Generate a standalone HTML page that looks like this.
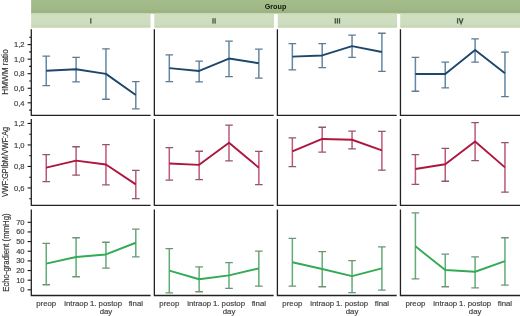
<!DOCTYPE html><html><head><meta charset="utf-8"><style>html,body{margin:0;padding:0;background:#fff;width:520px;height:316px;overflow:hidden}svg{display:block;will-change:transform}text{font-family:"Liberation Sans",sans-serif}.t{stroke:#444;stroke-width:0.18px}</style></head><body>
<svg width="520" height="316" viewBox="0 0 520 316">
<defs><linearGradient id="gd" x1="0" y1="0" x2="0" y2="1"><stop offset="0" stop-color="#a5bd8b"/><stop offset="0.6" stop-color="#a1b987"/><stop offset="0.85" stop-color="#9ab380"/><stop offset="1" stop-color="#9fb785"/></linearGradient><linearGradient id="gl" x1="0" y1="0" x2="0" y2="1"><stop offset="0" stop-color="#c9dcb6"/><stop offset="0.1" stop-color="#d0dfc0"/><stop offset="0.8" stop-color="#cddbbf"/><stop offset="0.92" stop-color="#c3d6af"/><stop offset="1" stop-color="#d3e1c4"/></linearGradient></defs>
<rect x="31.1" y="0" width="488.9" height="13.6" fill="url(#gd)"/>
<text x="275.5" y="9.3" font-size="7.2" font-weight="bold" text-anchor="middle" fill="#10180c">Group</text>
<rect x="31.10" y="13.6" width="119.40" height="14.3" fill="url(#gl)"/>
<rect x="90.15" y="18.2" width="1.3" height="5.4" fill="#46583f"/>
<rect x="154.30" y="13.6" width="119.70" height="14.3" fill="url(#gl)"/>
<rect x="212.35" y="18.2" width="1.3" height="5.4" fill="#46583f"/>
<rect x="214.45" y="18.2" width="1.3" height="5.4" fill="#46583f"/>
<rect x="277.80" y="13.6" width="119.30" height="14.3" fill="url(#gl)"/>
<rect x="334.65" y="18.2" width="1.3" height="5.4" fill="#46583f"/>
<rect x="336.75" y="18.2" width="1.3" height="5.4" fill="#46583f"/>
<rect x="338.85" y="18.2" width="1.3" height="5.4" fill="#46583f"/>
<rect x="400.20" y="13.6" width="119.80" height="14.3" fill="url(#gl)"/>
<rect x="456.95" y="18.2" width="1.3" height="5.4" fill="#46583f"/>
<path d="M459.2 18.2L461.1 23.5L463.0 18.2" fill="none" stroke="#46583f" stroke-width="1.3"/>
<path d="M31.30 29.20V115.30H150.60" fill="none" stroke="#222" stroke-width="1.3"/>
<path d="M46.25 56.05V85.65" fill="none" stroke="#6188a5" stroke-width="1.5"/>
<path d="M42.45 56.05H50.05M42.45 85.65H50.05" fill="none" stroke="#627a8e" stroke-width="1.3"/>
<path d="M76.10 57.45V81.95" fill="none" stroke="#6188a5" stroke-width="1.5"/>
<path d="M72.30 57.45H79.90M72.30 81.95H79.90" fill="none" stroke="#627a8e" stroke-width="1.3"/>
<path d="M105.95 48.85V99.25" fill="none" stroke="#6188a5" stroke-width="1.5"/>
<path d="M102.15 48.85H109.75M102.15 99.25H109.75" fill="none" stroke="#627a8e" stroke-width="1.3"/>
<path d="M135.80 81.55V108.85" fill="none" stroke="#6188a5" stroke-width="1.5"/>
<path d="M132.00 81.55H139.60M132.00 108.85H139.60" fill="none" stroke="#627a8e" stroke-width="1.3"/>
<polyline points="46.25,70.75 76.10,69.25 105.95,73.85 135.80,94.95" fill="none" stroke="#1e476c" stroke-width="1.9" stroke-linejoin="round"/>
<path d="M154.35 29.20V115.30H273.65" fill="none" stroke="#222" stroke-width="1.3"/>
<path d="M169.30 54.95V81.65" fill="none" stroke="#6188a5" stroke-width="1.5"/>
<path d="M165.50 54.95H173.10M165.50 81.65H173.10" fill="none" stroke="#627a8e" stroke-width="1.3"/>
<path d="M199.15 61.05V81.95" fill="none" stroke="#6188a5" stroke-width="1.5"/>
<path d="M195.35 61.05H202.95M195.35 81.95H202.95" fill="none" stroke="#627a8e" stroke-width="1.3"/>
<path d="M229.00 41.15V76.65" fill="none" stroke="#6188a5" stroke-width="1.5"/>
<path d="M225.20 41.15H232.80M225.20 76.65H232.80" fill="none" stroke="#627a8e" stroke-width="1.3"/>
<path d="M258.85 49.15V78.05" fill="none" stroke="#6188a5" stroke-width="1.5"/>
<path d="M255.05 49.15H262.65M255.05 78.05H262.65" fill="none" stroke="#627a8e" stroke-width="1.3"/>
<polyline points="169.30,68.15 199.15,70.95 229.00,58.55 258.85,63.25" fill="none" stroke="#1e476c" stroke-width="1.9" stroke-linejoin="round"/>
<path d="M277.40 29.20V115.30H396.70" fill="none" stroke="#222" stroke-width="1.3"/>
<path d="M292.35 43.65V69.85" fill="none" stroke="#6188a5" stroke-width="1.5"/>
<path d="M288.55 43.65H296.15M288.55 69.85H296.15" fill="none" stroke="#627a8e" stroke-width="1.3"/>
<path d="M322.20 43.65V67.65" fill="none" stroke="#6188a5" stroke-width="1.5"/>
<path d="M318.40 43.65H326.00M318.40 67.65H326.00" fill="none" stroke="#627a8e" stroke-width="1.3"/>
<path d="M352.05 35.15V57.45" fill="none" stroke="#6188a5" stroke-width="1.5"/>
<path d="M348.25 35.15H355.85M348.25 57.45H355.85" fill="none" stroke="#627a8e" stroke-width="1.3"/>
<path d="M381.90 33.25V71.45" fill="none" stroke="#6188a5" stroke-width="1.5"/>
<path d="M378.10 33.25H385.70M378.10 71.45H385.70" fill="none" stroke="#627a8e" stroke-width="1.3"/>
<polyline points="292.35,56.65 322.20,55.45 352.05,46.15 381.90,51.95" fill="none" stroke="#1e476c" stroke-width="1.9" stroke-linejoin="round"/>
<path d="M400.45 29.20V115.30H520.00" fill="none" stroke="#222" stroke-width="1.3"/>
<path d="M415.40 57.45V91.25" fill="none" stroke="#6188a5" stroke-width="1.5"/>
<path d="M411.60 57.45H419.20M411.60 91.25H419.20" fill="none" stroke="#627a8e" stroke-width="1.3"/>
<path d="M445.25 62.15V87.95" fill="none" stroke="#6188a5" stroke-width="1.5"/>
<path d="M441.45 62.15H449.05M441.45 87.95H449.05" fill="none" stroke="#627a8e" stroke-width="1.3"/>
<path d="M475.10 38.95V62.15" fill="none" stroke="#6188a5" stroke-width="1.5"/>
<path d="M471.30 38.95H478.90M471.30 62.15H478.90" fill="none" stroke="#627a8e" stroke-width="1.3"/>
<path d="M504.95 52.15V96.55" fill="none" stroke="#6188a5" stroke-width="1.5"/>
<path d="M501.15 52.15H508.75M501.15 96.55H508.75" fill="none" stroke="#627a8e" stroke-width="1.3"/>
<polyline points="415.40,73.95 445.25,73.95 475.10,49.95 504.95,73.35" fill="none" stroke="#1e476c" stroke-width="1.9" stroke-linejoin="round"/>
<path d="M29.2 37.30H31" stroke="#161616" stroke-width="1.1"/>
<path d="M27.6 44.60H31" stroke="#161616" stroke-width="1.1"/>
<text x="24.6" y="47.30" font-size="7.6" text-anchor="end" fill="#404040" class="t">1,2</text>
<path d="M29.2 51.90H31" stroke="#161616" stroke-width="1.1"/>
<path d="M27.6 59.15H31" stroke="#161616" stroke-width="1.1"/>
<text x="24.6" y="61.85" font-size="7.6" text-anchor="end" fill="#404040" class="t">1,0</text>
<path d="M29.2 66.40H31" stroke="#161616" stroke-width="1.1"/>
<path d="M27.6 73.70H31" stroke="#161616" stroke-width="1.1"/>
<text x="24.6" y="76.40" font-size="7.6" text-anchor="end" fill="#404040" class="t">0,8</text>
<path d="M29.2 81.00H31" stroke="#161616" stroke-width="1.1"/>
<path d="M27.6 88.25H31" stroke="#161616" stroke-width="1.1"/>
<text x="24.6" y="90.95" font-size="7.6" text-anchor="end" fill="#404040" class="t">0,6</text>
<path d="M29.2 95.50H31" stroke="#161616" stroke-width="1.1"/>
<path d="M27.6 102.80H31" stroke="#161616" stroke-width="1.1"/>
<text x="24.6" y="105.50" font-size="7.6" text-anchor="end" fill="#404040" class="t">0,4</text>
<path d="M29.2 110.10H31" stroke="#161616" stroke-width="1.1"/>
<text transform="translate(7.9 72.00) rotate(-90)" x="0" y="0" font-size="8.3" textLength="45.5" lengthAdjust="spacingAndGlyphs" text-anchor="middle" fill="#2a2a2a" class="t">HMWM ratio</text>
<path d="M31.30 119.00V205.30H150.60" fill="none" stroke="#222" stroke-width="1.3"/>
<path d="M46.25 154.55V181.55" fill="none" stroke="#be5878" stroke-width="1.5"/>
<path d="M42.45 154.55H50.05M42.45 181.55H50.05" fill="none" stroke="#8f5868" stroke-width="1.3"/>
<path d="M76.10 146.75V175.15" fill="none" stroke="#be5878" stroke-width="1.5"/>
<path d="M72.30 146.75H79.90M72.30 175.15H79.90" fill="none" stroke="#8f5868" stroke-width="1.3"/>
<path d="M105.95 144.55V184.85" fill="none" stroke="#be5878" stroke-width="1.5"/>
<path d="M102.15 144.55H109.75M102.15 184.85H109.75" fill="none" stroke="#8f5868" stroke-width="1.3"/>
<path d="M135.80 170.45V198.55" fill="none" stroke="#be5878" stroke-width="1.5"/>
<path d="M132.00 170.45H139.60M132.00 198.55H139.60" fill="none" stroke="#8f5868" stroke-width="1.3"/>
<polyline points="46.25,167.65 76.10,160.65 105.95,164.55 135.80,184.35" fill="none" stroke="#ac173f" stroke-width="1.9" stroke-linejoin="round"/>
<path d="M154.35 119.00V205.30H273.65" fill="none" stroke="#222" stroke-width="1.3"/>
<path d="M169.30 147.55V180.15" fill="none" stroke="#be5878" stroke-width="1.5"/>
<path d="M165.50 147.55H173.10M165.50 180.15H173.10" fill="none" stroke="#8f5868" stroke-width="1.3"/>
<path d="M199.15 151.25V179.55" fill="none" stroke="#be5878" stroke-width="1.5"/>
<path d="M195.35 151.25H202.95M195.35 179.55H202.95" fill="none" stroke="#8f5868" stroke-width="1.3"/>
<path d="M229.00 125.05V160.95" fill="none" stroke="#be5878" stroke-width="1.5"/>
<path d="M225.20 125.05H232.80M225.20 160.95H232.80" fill="none" stroke="#8f5868" stroke-width="1.3"/>
<path d="M258.85 151.45V184.65" fill="none" stroke="#be5878" stroke-width="1.5"/>
<path d="M255.05 151.45H262.65M255.05 184.65H262.65" fill="none" stroke="#8f5868" stroke-width="1.3"/>
<polyline points="169.30,163.45 199.15,164.85 229.00,142.85 258.85,167.65" fill="none" stroke="#ac173f" stroke-width="1.9" stroke-linejoin="round"/>
<path d="M277.40 119.00V205.30H396.70" fill="none" stroke="#222" stroke-width="1.3"/>
<path d="M292.35 137.85V166.55" fill="none" stroke="#be5878" stroke-width="1.5"/>
<path d="M288.55 137.85H296.15M288.55 166.55H296.15" fill="none" stroke="#8f5868" stroke-width="1.3"/>
<path d="M322.20 127.25V152.05" fill="none" stroke="#be5878" stroke-width="1.5"/>
<path d="M318.40 127.25H326.00M318.40 152.05H326.00" fill="none" stroke="#8f5868" stroke-width="1.3"/>
<path d="M352.05 131.15V148.95" fill="none" stroke="#be5878" stroke-width="1.5"/>
<path d="M348.25 131.15H355.85M348.25 148.95H355.85" fill="none" stroke="#8f5868" stroke-width="1.3"/>
<path d="M381.90 131.45V170.15" fill="none" stroke="#be5878" stroke-width="1.5"/>
<path d="M378.10 131.45H385.70M378.10 170.15H385.70" fill="none" stroke="#8f5868" stroke-width="1.3"/>
<polyline points="292.35,151.45 322.20,138.95 352.05,139.75 381.90,150.35" fill="none" stroke="#ac173f" stroke-width="1.9" stroke-linejoin="round"/>
<path d="M400.45 119.00V205.30H520.00" fill="none" stroke="#222" stroke-width="1.3"/>
<path d="M415.40 154.55V184.35" fill="none" stroke="#be5878" stroke-width="1.5"/>
<path d="M411.60 154.55H419.20M411.60 184.35H419.20" fill="none" stroke="#8f5868" stroke-width="1.3"/>
<path d="M445.25 148.45V181.25" fill="none" stroke="#be5878" stroke-width="1.5"/>
<path d="M441.45 148.45H449.05M441.45 181.25H449.05" fill="none" stroke="#8f5868" stroke-width="1.3"/>
<path d="M475.10 122.55V160.65" fill="none" stroke="#be5878" stroke-width="1.5"/>
<path d="M471.30 122.55H478.90M471.30 160.65H478.90" fill="none" stroke="#8f5868" stroke-width="1.3"/>
<path d="M504.95 142.55V192.15" fill="none" stroke="#be5878" stroke-width="1.5"/>
<path d="M501.15 142.55H508.75M501.15 192.15H508.75" fill="none" stroke="#8f5868" stroke-width="1.3"/>
<polyline points="415.40,169.05 445.25,164.25 475.10,141.45 504.95,167.35" fill="none" stroke="#ac173f" stroke-width="1.9" stroke-linejoin="round"/>
<path d="M27.6 123.45H31" stroke="#161616" stroke-width="1.1"/>
<text x="24.6" y="126.15" font-size="7.6" text-anchor="end" fill="#404040" class="t">1,2</text>
<path d="M29.2 134.20H31" stroke="#161616" stroke-width="1.1"/>
<path d="M27.6 144.95H31" stroke="#161616" stroke-width="1.1"/>
<text x="24.6" y="147.65" font-size="7.6" text-anchor="end" fill="#404040" class="t">1,0</text>
<path d="M29.2 155.70H31" stroke="#161616" stroke-width="1.1"/>
<path d="M27.6 166.45H31" stroke="#161616" stroke-width="1.1"/>
<text x="24.6" y="169.15" font-size="7.6" text-anchor="end" fill="#404040" class="t">0,8</text>
<path d="M29.2 177.20H31" stroke="#161616" stroke-width="1.1"/>
<path d="M27.6 187.95H31" stroke="#161616" stroke-width="1.1"/>
<text x="24.6" y="190.65" font-size="7.6" text-anchor="end" fill="#404040" class="t">0,6</text>
<path d="M29.2 198.70H31" stroke="#161616" stroke-width="1.1"/>
<text transform="translate(8.2 162.00) rotate(-90)" x="0" y="0" font-size="8.3" textLength="70.1" lengthAdjust="spacingAndGlyphs" text-anchor="middle" fill="#2a2a2a" class="t">VWF:GPIbM/VWF:Ag</text>
<path d="M31.30 209.60V295.50H150.60" fill="none" stroke="#222" stroke-width="1.3"/>
<path d="M46.25 243.35V284.75" fill="none" stroke="#62ac76" stroke-width="1.5"/>
<path d="M42.45 243.35H50.05M42.45 284.75H50.05" fill="none" stroke="#6f9279" stroke-width="1.3"/>
<path d="M76.10 237.75V276.75" fill="none" stroke="#62ac76" stroke-width="1.5"/>
<path d="M72.30 237.75H79.90M72.30 276.75H79.90" fill="none" stroke="#6f9279" stroke-width="1.3"/>
<path d="M105.95 242.25V268.05" fill="none" stroke="#62ac76" stroke-width="1.5"/>
<path d="M102.15 242.25H109.75M102.15 268.05H109.75" fill="none" stroke="#6f9279" stroke-width="1.3"/>
<path d="M135.80 229.15V256.95" fill="none" stroke="#62ac76" stroke-width="1.5"/>
<path d="M132.00 229.15H139.60M132.00 256.95H139.60" fill="none" stroke="#6f9279" stroke-width="1.3"/>
<polyline points="46.25,263.65 76.10,256.95 105.95,254.45 135.80,242.75" fill="none" stroke="#33aa55" stroke-width="1.9" stroke-linejoin="round"/>
<path d="M154.35 209.60V295.50H273.65" fill="none" stroke="#222" stroke-width="1.3"/>
<path d="M169.30 248.65V292.85" fill="none" stroke="#62ac76" stroke-width="1.5"/>
<path d="M165.50 248.65H173.10M165.50 292.85H173.10" fill="none" stroke="#6f9279" stroke-width="1.3"/>
<path d="M199.15 266.95V291.75" fill="none" stroke="#62ac76" stroke-width="1.5"/>
<path d="M195.35 266.95H202.95M195.35 291.75H202.95" fill="none" stroke="#6f9279" stroke-width="1.3"/>
<path d="M229.00 262.55V288.45" fill="none" stroke="#62ac76" stroke-width="1.5"/>
<path d="M225.20 262.55H232.80M225.20 288.45H232.80" fill="none" stroke="#6f9279" stroke-width="1.3"/>
<path d="M258.85 251.15V286.15" fill="none" stroke="#62ac76" stroke-width="1.5"/>
<path d="M255.05 251.15H262.65M255.05 286.15H262.65" fill="none" stroke="#6f9279" stroke-width="1.3"/>
<polyline points="169.30,270.55 199.15,279.25 229.00,275.35 258.85,268.35" fill="none" stroke="#33aa55" stroke-width="1.9" stroke-linejoin="round"/>
<path d="M277.40 209.60V295.50H396.70" fill="none" stroke="#222" stroke-width="1.3"/>
<path d="M292.35 238.35V286.15" fill="none" stroke="#62ac76" stroke-width="1.5"/>
<path d="M288.55 238.35H296.15M288.55 286.15H296.15" fill="none" stroke="#6f9279" stroke-width="1.3"/>
<path d="M322.20 251.65V286.75" fill="none" stroke="#62ac76" stroke-width="1.5"/>
<path d="M318.40 251.65H326.00M318.40 286.75H326.00" fill="none" stroke="#6f9279" stroke-width="1.3"/>
<path d="M352.05 260.55V292.55" fill="none" stroke="#62ac76" stroke-width="1.5"/>
<path d="M348.25 260.55H355.85M348.25 292.55H355.85" fill="none" stroke="#6f9279" stroke-width="1.3"/>
<path d="M381.90 246.95V290.05" fill="none" stroke="#62ac76" stroke-width="1.5"/>
<path d="M378.10 246.95H385.70M378.10 290.05H385.70" fill="none" stroke="#6f9279" stroke-width="1.3"/>
<polyline points="292.35,262.25 322.20,268.95 352.05,276.15 381.90,268.35" fill="none" stroke="#33aa55" stroke-width="1.9" stroke-linejoin="round"/>
<path d="M400.45 209.60V295.50H520.00" fill="none" stroke="#222" stroke-width="1.3"/>
<path d="M415.40 212.95V278.95" fill="none" stroke="#62ac76" stroke-width="1.5"/>
<path d="M411.60 212.95H419.20M411.60 278.95H419.20" fill="none" stroke="#6f9279" stroke-width="1.3"/>
<path d="M445.25 254.15V286.75" fill="none" stroke="#62ac76" stroke-width="1.5"/>
<path d="M441.45 254.15H449.05M441.45 286.75H449.05" fill="none" stroke="#6f9279" stroke-width="1.3"/>
<path d="M475.10 256.95V287.85" fill="none" stroke="#62ac76" stroke-width="1.5"/>
<path d="M471.30 256.95H478.90M471.30 287.85H478.90" fill="none" stroke="#6f9279" stroke-width="1.3"/>
<path d="M504.95 237.75V285.05" fill="none" stroke="#62ac76" stroke-width="1.5"/>
<path d="M501.15 237.75H508.75M501.15 285.05H508.75" fill="none" stroke="#6f9279" stroke-width="1.3"/>
<polyline points="415.40,246.35 445.25,270.05 475.10,271.75 504.95,261.15" fill="none" stroke="#33aa55" stroke-width="1.9" stroke-linejoin="round"/>
<path d="M27.6 222.30H31" stroke="#161616" stroke-width="1.1"/>
<text x="24.6" y="224.70" font-size="7.6" text-anchor="end" fill="#404040" class="t">70</text>
<path d="M27.6 231.95H31" stroke="#161616" stroke-width="1.1"/>
<text x="24.6" y="234.35" font-size="7.6" text-anchor="end" fill="#404040" class="t">60</text>
<path d="M27.6 241.60H31" stroke="#161616" stroke-width="1.1"/>
<text x="24.6" y="244.00" font-size="7.6" text-anchor="end" fill="#404040" class="t">50</text>
<path d="M27.6 251.25H31" stroke="#161616" stroke-width="1.1"/>
<text x="24.6" y="253.65" font-size="7.6" text-anchor="end" fill="#404040" class="t">40</text>
<path d="M27.6 260.90H31" stroke="#161616" stroke-width="1.1"/>
<text x="24.6" y="263.30" font-size="7.6" text-anchor="end" fill="#404040" class="t">30</text>
<path d="M27.6 270.55H31" stroke="#161616" stroke-width="1.1"/>
<text x="24.6" y="272.94" font-size="7.6" text-anchor="end" fill="#404040" class="t">20</text>
<path d="M27.6 280.19H31" stroke="#161616" stroke-width="1.1"/>
<text x="24.6" y="282.59" font-size="7.6" text-anchor="end" fill="#404040" class="t">10</text>
<path d="M27.6 289.84H31" stroke="#161616" stroke-width="1.1"/>
<text x="24.6" y="292.24" font-size="7.6" text-anchor="end" fill="#404040" class="t">0</text>
<text transform="translate(8.8 252.60) rotate(-90)" x="0" y="0" font-size="8.3" textLength="78.4" lengthAdjust="spacingAndGlyphs" text-anchor="middle" fill="#2a2a2a" class="t">Echo-gradient (mmHg)</text>
<text x="46.25" y="305.5" font-size="7.8" text-anchor="middle" fill="#404040" class="t">preop</text>
<text x="76.10" y="305.5" font-size="7.8" text-anchor="middle" fill="#404040" class="t">intraop</text>
<text x="105.95" y="305.5" font-size="7.8" text-anchor="middle" fill="#404040" class="t">1. postop</text>
<text x="135.80" y="305.5" font-size="7.8" text-anchor="middle" fill="#404040" class="t">final</text>
<text x="105.95" y="314.4" font-size="7.8" text-anchor="middle" fill="#404040" class="t">day</text>
<text x="169.30" y="305.5" font-size="7.8" text-anchor="middle" fill="#404040" class="t">preop</text>
<text x="199.15" y="305.5" font-size="7.8" text-anchor="middle" fill="#404040" class="t">intraop</text>
<text x="229.00" y="305.5" font-size="7.8" text-anchor="middle" fill="#404040" class="t">1. postop</text>
<text x="258.85" y="305.5" font-size="7.8" text-anchor="middle" fill="#404040" class="t">final</text>
<text x="229.00" y="314.4" font-size="7.8" text-anchor="middle" fill="#404040" class="t">day</text>
<text x="292.35" y="305.5" font-size="7.8" text-anchor="middle" fill="#404040" class="t">preop</text>
<text x="322.20" y="305.5" font-size="7.8" text-anchor="middle" fill="#404040" class="t">intraop</text>
<text x="352.05" y="305.5" font-size="7.8" text-anchor="middle" fill="#404040" class="t">1. postop</text>
<text x="381.90" y="305.5" font-size="7.8" text-anchor="middle" fill="#404040" class="t">final</text>
<text x="352.05" y="314.4" font-size="7.8" text-anchor="middle" fill="#404040" class="t">day</text>
<text x="415.40" y="305.5" font-size="7.8" text-anchor="middle" fill="#404040" class="t">preop</text>
<text x="445.25" y="305.5" font-size="7.8" text-anchor="middle" fill="#404040" class="t">intraop</text>
<text x="475.10" y="305.5" font-size="7.8" text-anchor="middle" fill="#404040" class="t">1. postop</text>
<text x="504.95" y="305.5" font-size="7.8" text-anchor="middle" fill="#404040" class="t">final</text>
<text x="475.10" y="314.4" font-size="7.8" text-anchor="middle" fill="#404040" class="t">day</text>
</svg></body></html>
